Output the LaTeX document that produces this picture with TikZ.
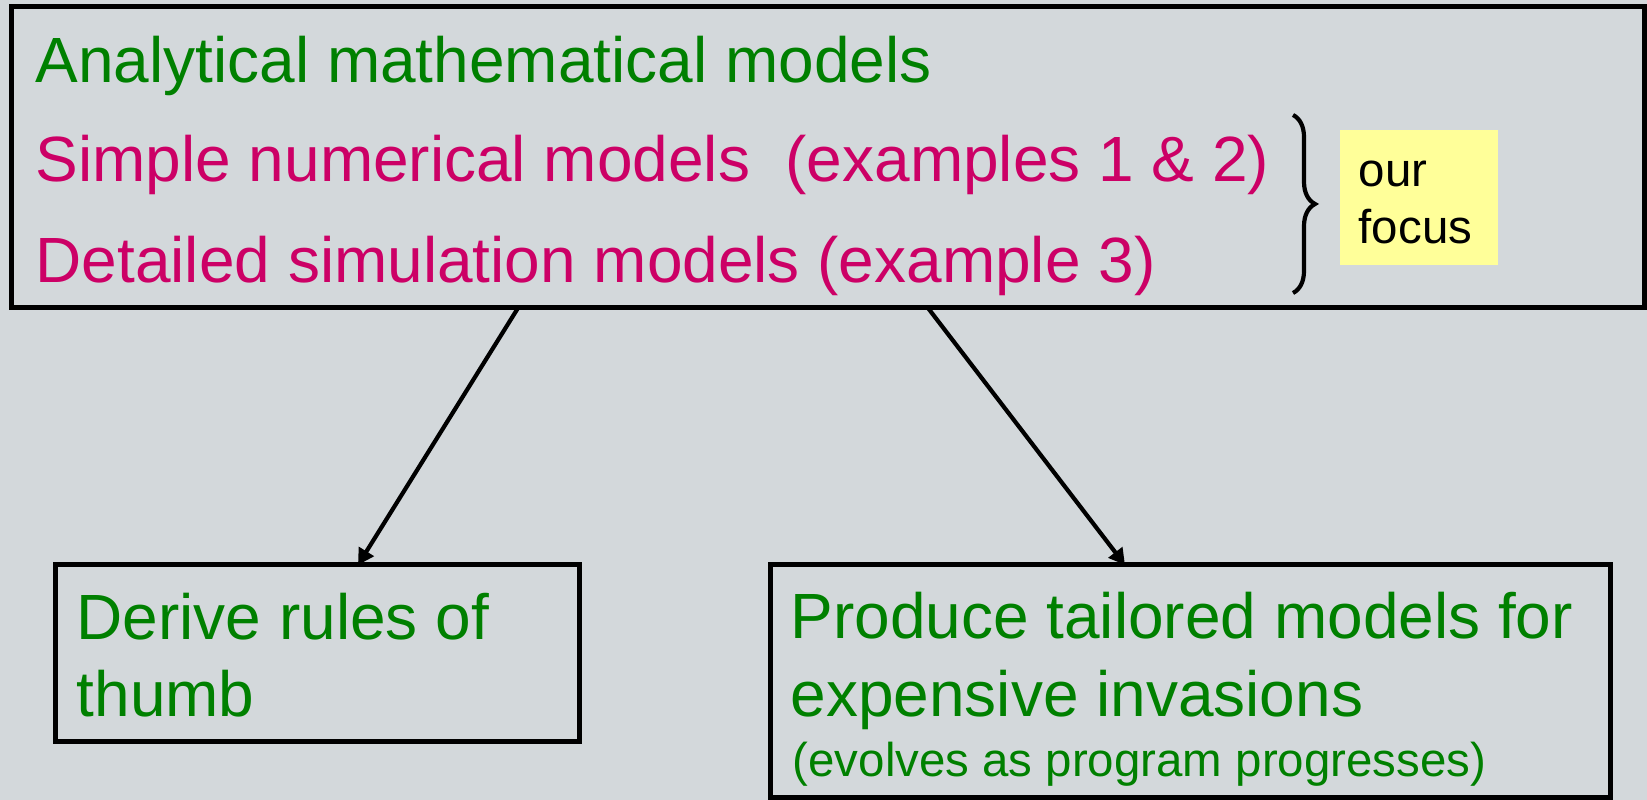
\documentclass[tikz,border=0pt]{standalone}
\usepackage{fontspec}
\setmainfont{Liberation Sans}
\usepackage{tikz}
\usetikzlibrary{calc,arrows.meta,fit,decorations.pathreplacing}
\definecolor{bgc}{HTML}{D3D8DB}
\definecolor{grn}{HTML}{008000}
\definecolor{mag}{HTML}{CC0066}
\definecolor{noteyel}{HTML}{FFFF99}
\tikzset{
  frame/.style={draw=black,line width=0.5mm,inner sep=0pt,outer sep=0pt},
  note/.style={fill=noteyel,inner sep=0pt,outer sep=0pt},
  big/.style={inner sep=0pt,anchor=base west,font=\fontsize{18.2}{21}\selectfont},
  small/.style={inner sep=0pt,anchor=base west,font=\fontsize{13.5}{16}\selectfont},
  ar/.style={-{Triangle[length=1.6mm,width=1.7mm]},line width=0.42mm,black},
  brc/.style={decorate,decoration={brace,amplitude=2.2mm},line width=0.42mm}
}
\begin{document}
\begin{tikzpicture}[x=0.1mm,y=-0.1mm]
\useasboundingbox (0,0) rectangle (1647,800);
\fill[bgc] (0,0) rectangle (1647,800);
\node[frame,fit={(11,7) (1644,308)}] (top) {};
\node[frame,fit={(55,565) (579,742)}] (rules) {};
\node[frame,fit={(770,565) (1610,798)}] (tailored) {};
\node[note,fit={(1340,130) (1498,265)}] (focus) {};
\node[big,grn] (ana) at (35,83) {Analytical mathematical models};
\node[big,mag] (simple) at (35,182) {Simple numerical models\ \ (examples 1 \& 2)};
\node[big,mag] (detail) at (35,283) {Detailed simulation models (example 3)};
\draw[brc] (1293,115) -- (1293,293);
\node[small] (our) at (1358,187) {our};
\node[small] (fcs) at (1358,244) {focus};
\node[big,grn] (derive) at (76,640) {Derive rules of};
\node[big,grn] (thumb) at (76,717) {thumb};
\node[big,grn] (produce) at (790,639) {Produce tailored models for};
\node[big,grn] (expens) at (790,717) {expensive invasions};
\node[small,grn] (evolves) at (792,777) {(evolves as program progresses)};
\draw[ar] ($(top.south west)+(507,0)$) -- ($(rules.north west)+(303,0)$);
\draw[ar] ($(top.south west)+(917,0)$) -- ($(tailored.north west)+(355,0)$);
\end{tikzpicture}
\end{document}
